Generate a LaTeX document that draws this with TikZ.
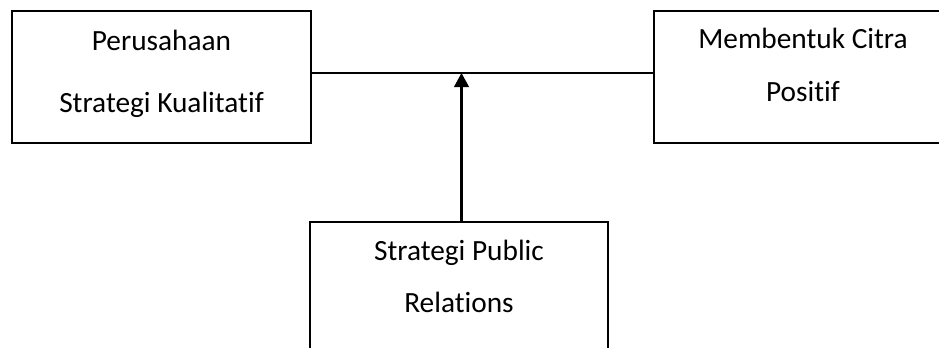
\documentclass[tikz,border=0pt]{standalone}
\usepackage{fontspec}
\setmainfont{Carlito}[RawFeature={-liga;-clig;-dlig}]
\usetikzlibrary{arrows.meta}
\begin{document}
\begin{tikzpicture}[x=0.75pt,y=-0.75pt,
  boxstyle/.style={draw=black,line width=0.9pt,rectangle,inner sep=0pt,outer sep=0pt},
  lbl/.style={anchor=base,inner sep=0pt,font=\fontsize{22}{26}\selectfont},
  conn/.style={draw=black,line width=1.6pt}]
\useasboundingbox (0,0) rectangle (939,347);
\clip (0,0) rectangle (939,347);
\node[boxstyle,minimum width=299*0.75pt,minimum height=132*0.75pt] (L) at (161.5,77) {};
\node[boxstyle,minimum width=298*0.75pt,minimum height=132*0.75pt] (R) at (803,77) {};
\node[boxstyle,minimum width=298*0.75pt,minimum height=132*0.75pt] (B) at (459,288) {};
\node[lbl] (l1) at (161.5,50) {Perusahaan};
\node[lbl] (l2) at (161.5,112) {Strategi Kualitatif};
\node[lbl] (r1) at (803,48) {Membentuk Citra};
\node[lbl] (r2) at (803,101) {Positif};
\node[lbl] (b1) at (459,260) {Strategi Public};
\node[lbl] (b2) at (459,312) {Relations};
\coordinate (J) at (461.5,73);
\draw[conn] (L.east |- J) -- (R.west |- J);
\draw[conn,-{Triangle[length=10.5pt,width=11pt]}] (B.north -| J) -- (J);
\end{tikzpicture}
\end{document}
